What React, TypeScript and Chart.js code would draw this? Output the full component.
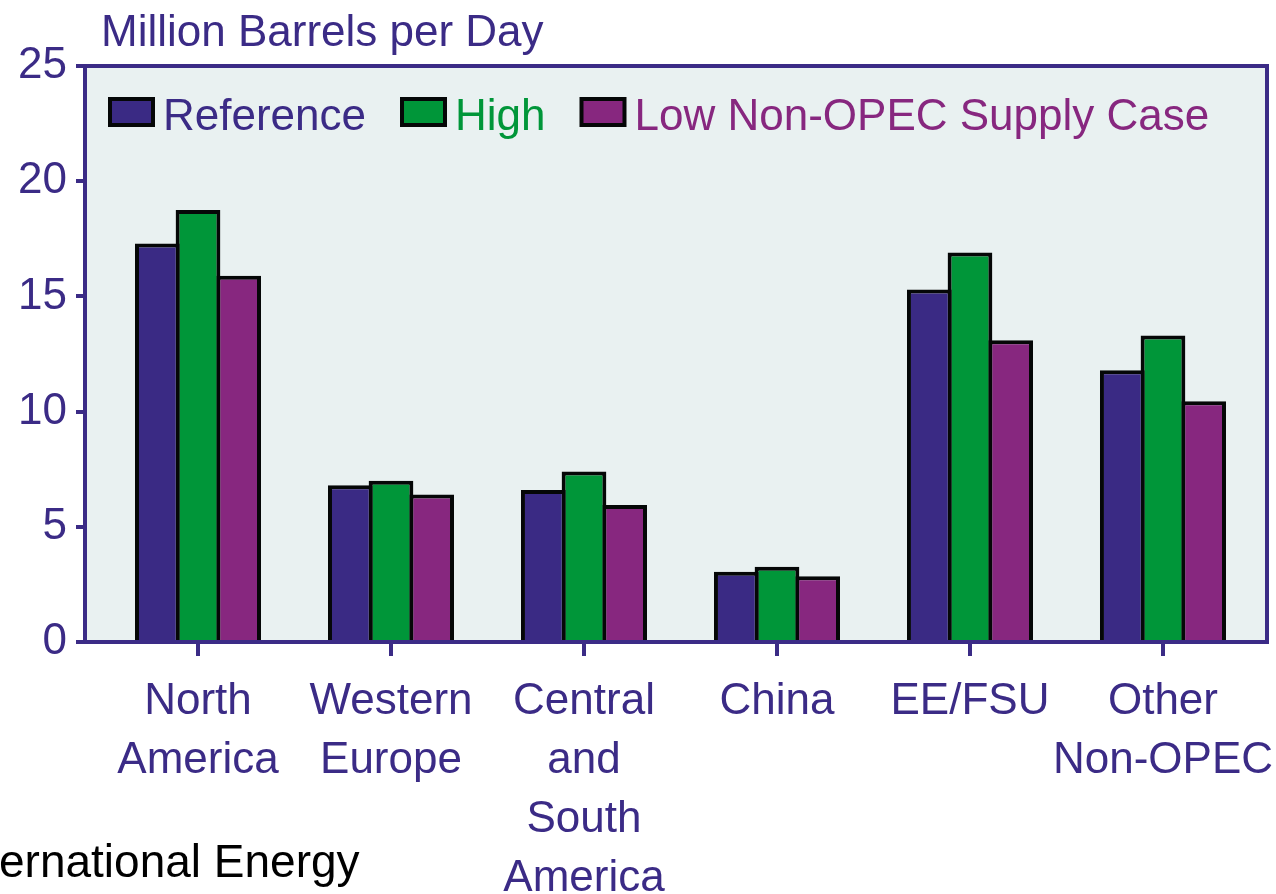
import React, { useEffect, useRef } from 'react';
import { Chart, registerables } from 'chart.js';

Chart.register(...registerables);

// ---- data ----
const categories: string[][] = [
  ['North', 'America'],
  ['Western', 'Europe'],
  ['Central', 'and', 'South', 'America'],
  ['China'],
  ['EE/FSU'],
  ['Other', 'Non-OPEC'],
];
const seriesNames = ['Reference', 'High', 'Low Non-OPEC Supply Case'];
const referenceValues = [17.3, 6.8, 6.6, 3.05, 15.3, 11.8];
const highValues = [18.75, 7.0, 7.4, 3.27, 16.9, 13.3];
const lowValues = [15.9, 6.4, 5.95, 2.85, 13.1, 10.45];
const yAxisMin = 0;
const yAxisMax = 25;
const yAxisStep = 5;
const unitTitle = 'Million Barrels per Day';
const footerText = 'ernational Energy';

// ---- styles ----
const AXIS = '#3b2b86';
const PLOT_BG = '#e9f1f1';
const EDGE = '#050707';
const seriesColors = ['#3a2a84', '#009639', '#87277f'];
const textColors = ['#3b2b86', '#009639', '#87277f'];
const FONT = '"Liberation Sans", Arial, Helvetica, sans-serif';

const framePlugin = {
  id: 'frame',
  beforeDraw(chart: any) {
    const { ctx, chartArea } = chart;
    ctx.save();
    ctx.fillStyle = PLOT_BG;
    ctx.fillRect(chartArea.left, chartArea.top, chartArea.right - chartArea.left, chartArea.bottom - chartArea.top);
    ctx.restore();
  },
  afterDraw(chart: any) {
    const { ctx, chartArea } = chart;
    ctx.save();
    ctx.strokeStyle = AXIS;
    ctx.lineWidth = 4;
    ctx.beginPath();
    ctx.moveTo(chartArea.left - 2, chartArea.top);
    ctx.lineTo(chartArea.right, chartArea.top);
    ctx.lineTo(chartArea.right, chartArea.bottom);
    ctx.stroke();

    // legend inside the plot area, one row
    ctx.font = `44px ${FONT}`;
    ctx.textBaseline = 'middle';
    ctx.textAlign = 'left';
    let x = chartArea.left + 25;
    const boxTop = chartArea.top + 33;
    const boxW = 43;
    const boxH = 26;
    chart.data.datasets.forEach((ds: any, i: number) => {
      ctx.fillStyle = seriesColors[i];
      ctx.fillRect(x, boxTop, boxW, boxH);
      ctx.strokeStyle = EDGE;
      ctx.lineWidth = 4;
      ctx.strokeRect(x, boxTop, boxW, boxH);
      const tx = x + boxW + 10;
      ctx.fillStyle = textColors[i];
      ctx.fillText(ds.label, tx, boxTop + boxH / 2 + 6);
      x = tx + ctx.measureText(ds.label).width + 36;
    });

    // unit title
    ctx.fillStyle = AXIS;
    ctx.font = `44px ${FONT}`;
    ctx.textBaseline = 'alphabetic';
    ctx.fillText(unitTitle, 101, 46);
    // footer
    ctx.fillStyle = '#000000';
    ctx.font = `46px ${FONT}`;
    ctx.fillText(footerText, -1, 877);
    ctx.restore();
  },
};

function App() {
  const canvasRef = useRef<HTMLCanvasElement | null>(null);

  useEffect(() => {
    document.body.style.margin = '0';
    const canvas = canvasRef.current;
    if (!canvas) return;
    const seriesValues = [referenceValues, highValues, lowValues];
    const chart = new Chart(canvas, {
      type: 'bar',
      data: {
        datasets: seriesNames.map((name, s) => ({
          label: name,
          data: seriesValues[s].map((v, i) => ({ x: i, y: v })),
          backgroundColor: seriesColors[s],
          borderColor: EDGE,
          borderWidth: 4,
          borderSkipped: 'bottom',
          categoryPercentage: 0.632,
          barPercentage: 1.1,
        })),
      },
      options: {
        animation: false,
        responsive: false,
        devicePixelRatio: 1,
        layout: { padding: { top: 66, right: 9, bottom: 0, left: 0 } },
        plugins: {
          title: { display: false },
          tooltip: { enabled: false },
          legend: { display: false },
        },
        scales: {
          x: {
            type: 'linear',
            offset: false,
            min: -0.5855,
            max: 5.539,
            z: 1,
            ticks: {
              stepSize: 1,
              includeBounds: false,
              autoSkip: false,
              maxRotation: 0,
              minRotation: 0,
              padding: 16,
              color: AXIS,
              font: { size: 44, family: FONT, lineHeight: 1.34 },
              callback: (value: any) => {
                const v = Number(value);
                return Number.isInteger(v) && categories[v] ? categories[v] : '';
              },
            },
            grid: {
              offset: false,
              drawOnChartArea: false,
              drawTicks: true,
              tickLength: 14,
              lineWidth: 4,
              color: AXIS,
            },
            border: { display: true, color: AXIS, width: 4 },
            afterFit: (scale: any) => {
              scale.height = 252;
              scale.paddingLeft = 0;
              scale.paddingRight = 0;
            },
          },
          y: {
            min: yAxisMin,
            max: yAxisMax,
            z: 1,
            ticks: {
              stepSize: yAxisStep,
              padding: 9,
              color: AXIS,
              font: { size: 44, family: FONT },
            },
            grid: {
              drawOnChartArea: false,
              drawTicks: true,
              tickLength: 9,
              lineWidth: 4,
              color: AXIS,
            },
            border: { display: true, color: AXIS, width: 4 },
            afterFit: (scale: any) => {
              scale.width = 85;
              scale.paddingTop = 0;
              scale.paddingBottom = 0;
            },
          },
        },
      } as any,
      plugins: [framePlugin],
    });
    return () => chart.destroy();
  }, []);

  return (
    <div style={{ position: 'fixed', left: 0, top: 0, width: 1276, height: 894, background: '#ffffff' }}>
      <canvas ref={canvasRef} width={1276} height={894} style={{ width: 1276, height: 894, display: 'block' }} />
    </div>
  );
}

export default App;
